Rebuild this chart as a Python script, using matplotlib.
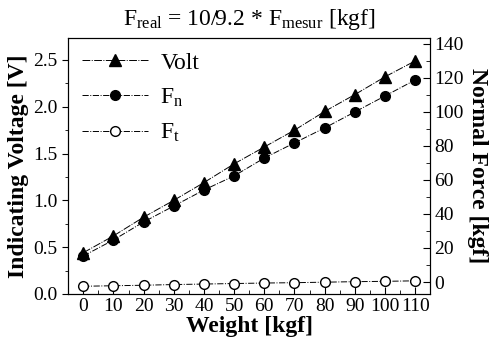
import matplotlib
matplotlib.use("Agg")
import matplotlib.pyplot as plt
from matplotlib.ticker import MultipleLocator

plt.rcParams['font.family'] = ['Liberation Serif', 'DejaVu Serif']
plt.rcParams['mathtext.fontset'] = 'custom'
plt.rcParams['mathtext.rm'] = 'Liberation Serif'
plt.rcParams['mathtext.it'] = 'Liberation Serif'

# data
weight = [0, 10, 20, 30, 40, 50, 60, 70, 80, 90, 100, 110]
volt = [0.44, 0.62, 0.82, 1.00, 1.19, 1.39, 1.57, 1.75, 1.95, 2.13, 2.32, 2.49]
f_n = [15.3, 24.7, 35.3, 44.7, 54.1, 62.4, 72.9, 81.8, 90.6, 100.0, 109.4, 118.8]
f_t = [-2.5, -2.2, -1.9, -1.5, -1.2, -0.9, -0.6, -0.4, -0.1, 0.2, 0.4, 0.7]

fig = plt.figure(figsize=(4.94, 3.39), dpi=100)
ax = fig.add_axes([0.138, 0.133, 0.733, 0.755])
ax2 = ax.twinx()

l1, = ax.plot(weight, volt, color='black', lw=0.7, ls=(0, (8, 1.5, 1, 1.5)),
              marker='^', ms=8, label='Volt')
l2, = ax2.plot(weight, f_n, color='black', lw=0.7, ls='-.',
               marker='o', ms=7, label=r'$\mathregular{F_n}$')
l3, = ax2.plot(weight, f_t, color='black', lw=0.7, ls='-.',
               marker='o', ms=7, mfc='white', label=r'$\mathregular{F_t}$')

ax.set_xlim(-5, 115)
ax.set_ylim(0, 2.735)
ax2.set_ylim(-7, 143.5)

ax.set_xticks(weight)
ax.xaxis.set_minor_locator(MultipleLocator(5))
ax.yaxis.set_major_locator(MultipleLocator(0.5))
ax.yaxis.set_minor_locator(MultipleLocator(0.25))
ax2.set_yticks(range(0, 141, 20))
ax2.yaxis.set_minor_locator(MultipleLocator(10))
ax.yaxis.set_major_formatter(plt.FormatStrFormatter('%.1f'))

ax.tick_params(axis='x', direction='in', labelsize=14, length=5, pad=3)
ax.tick_params(axis='x', which='minor', direction='in', length=3)
ax.tick_params(axis='y', direction='out', labelsize=14, length=4)
ax.tick_params(axis='y', which='minor', direction='out', length=2.5)
ax2.tick_params(axis='y', direction='in', labelsize=14, length=5, pad=3)
ax2.tick_params(axis='y', which='minor', direction='in', length=3)

ax.set_xlabel('Weight [kgf]', fontsize=17, fontweight='bold', labelpad=1)
ax.set_ylabel('Indicating Voltage [V]', fontsize=17, fontweight='bold', labelpad=3)
ax2.set_ylabel('Normal Force [kgf]', fontsize=17, fontweight='bold',
               rotation=270, labelpad=17)
ax.set_title(r'$\mathregular{F_{real}}$ = 10/9.2 * $\mathregular{F_{mesur}}$ [kgf]',
             fontsize=17, pad=9)

ax.legend(handles=[l1, l2, l3], loc='upper left', frameon=False, fontsize=17,
          handlelength=2.8, labelspacing=0.55, borderaxespad=0.2,
          handletextpad=0.5, bbox_to_anchor=(0.0, 1.0))

fig.savefig('out.png', dpi=100)
